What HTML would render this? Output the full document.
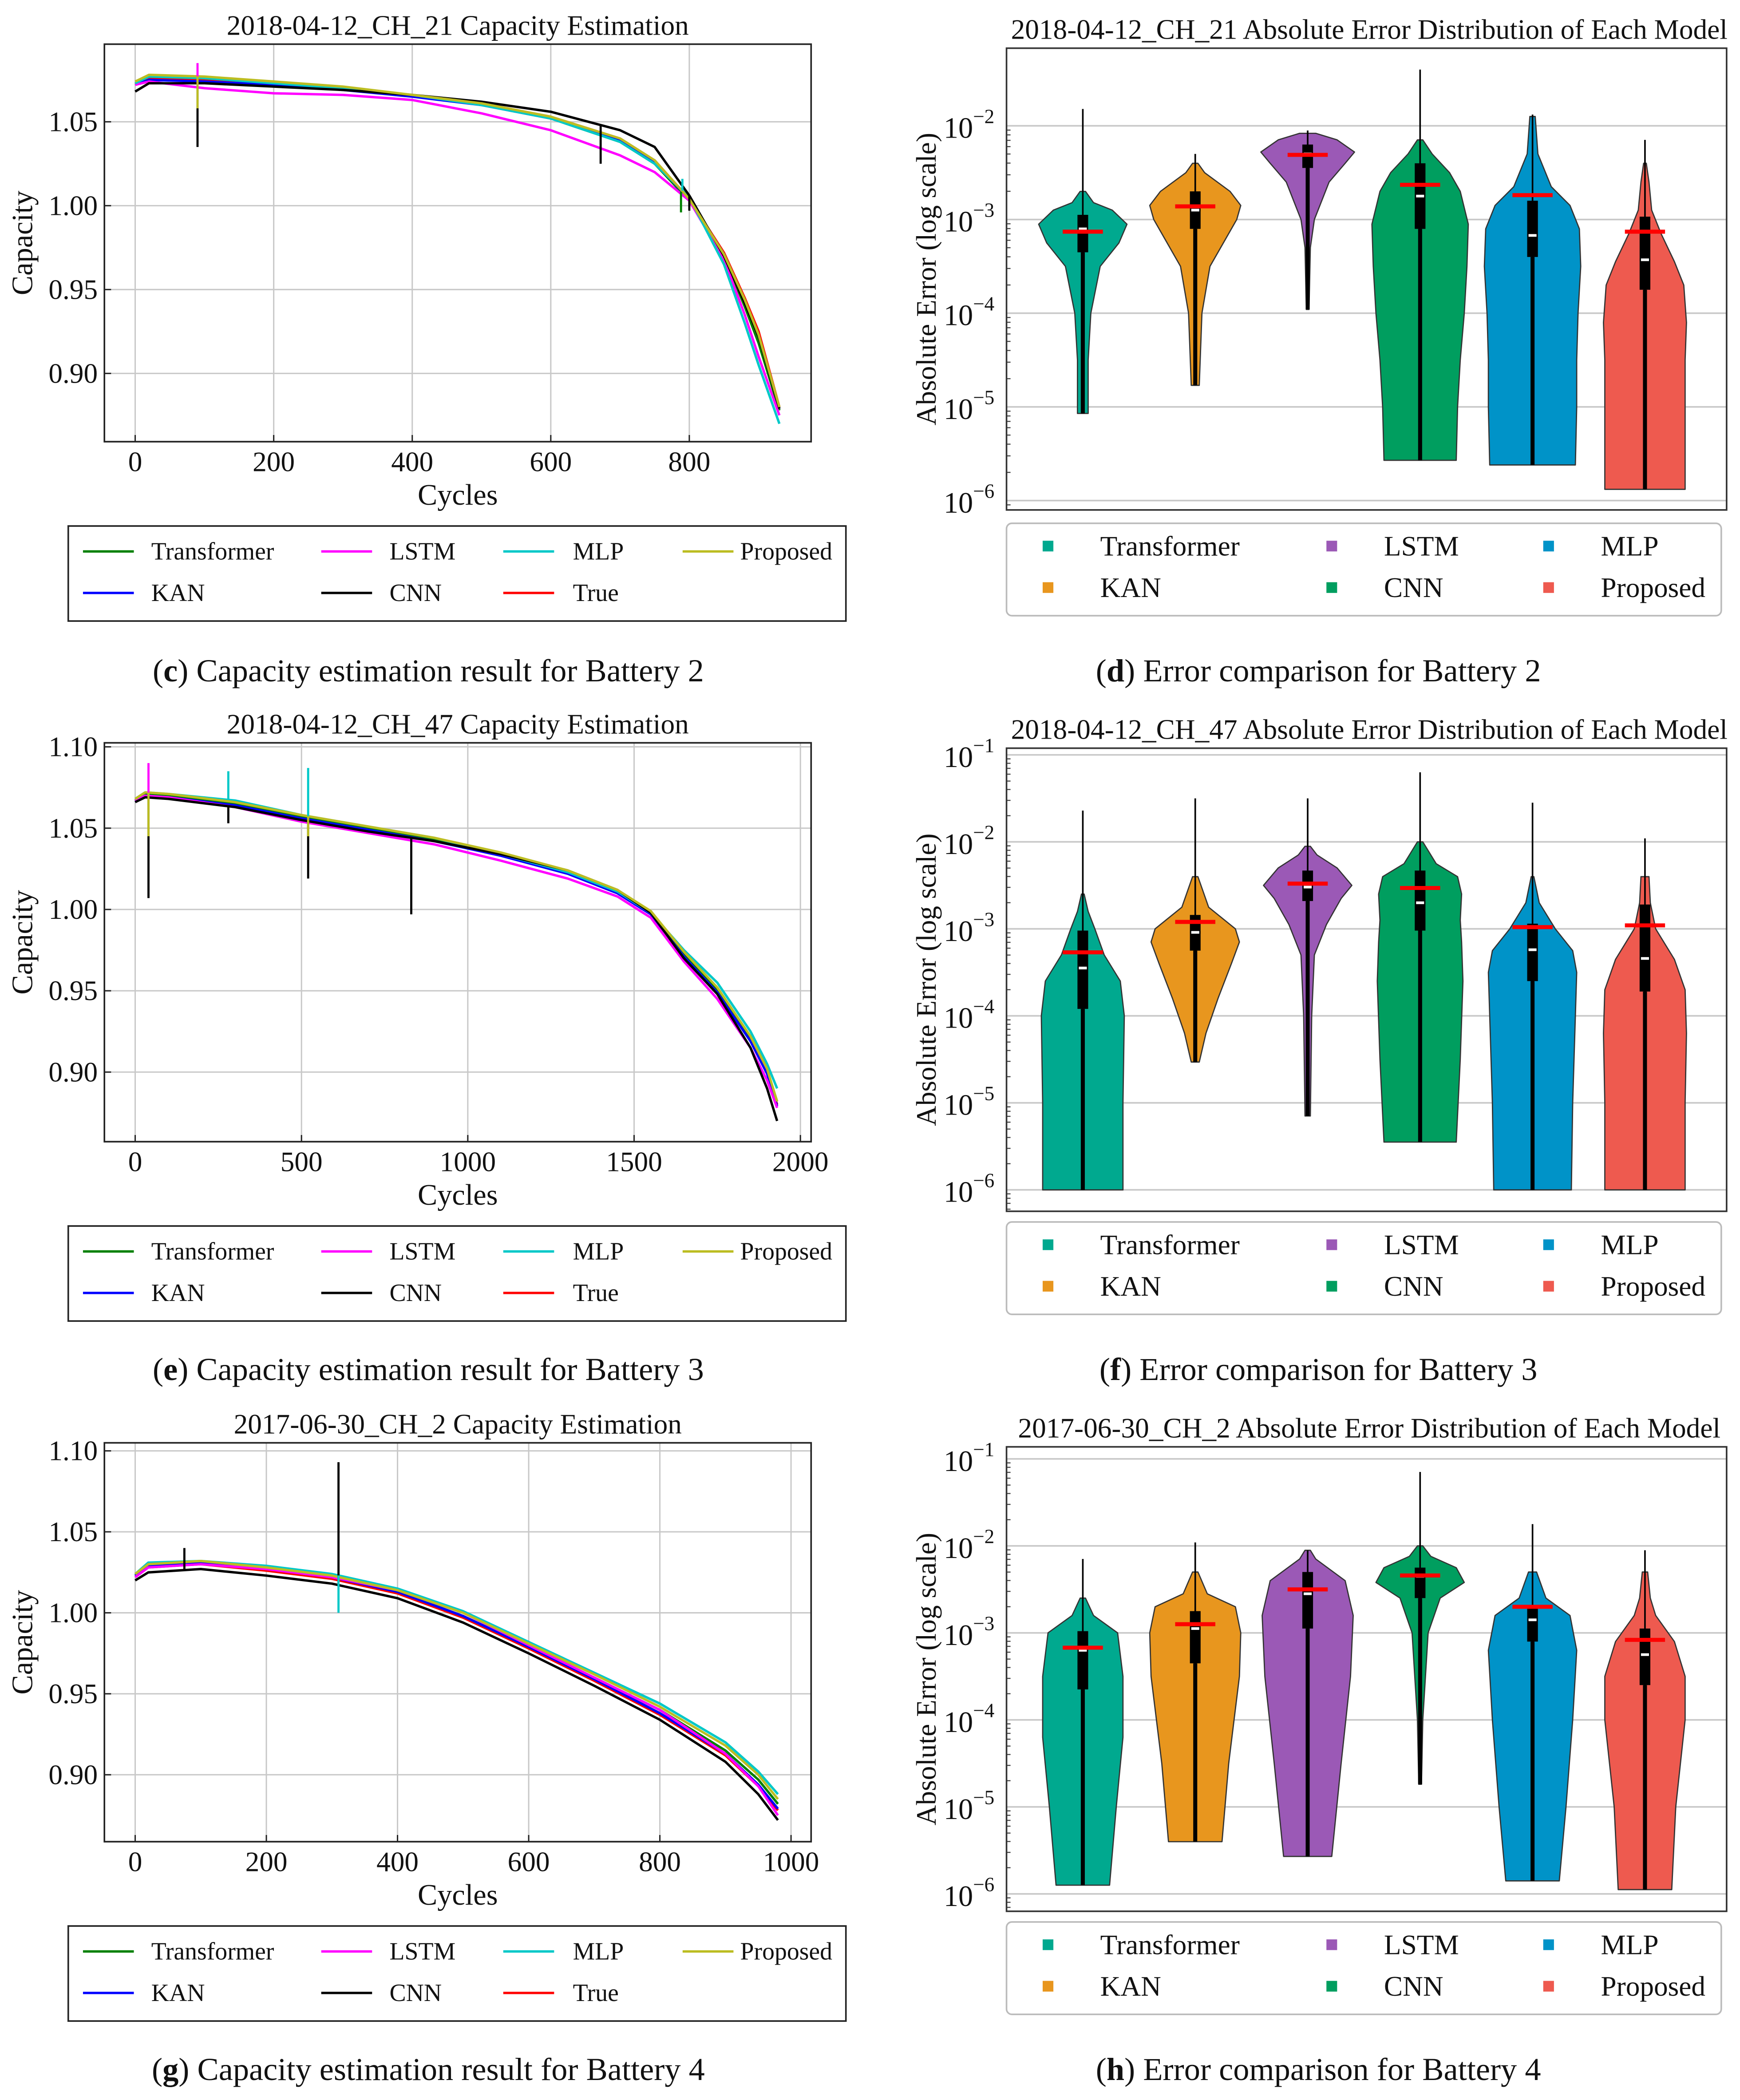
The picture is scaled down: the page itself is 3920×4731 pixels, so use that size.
<!DOCTYPE html>
<html><head><meta charset="utf-8">
<style>
html,body{margin:0;padding:0;background:#fff;}
svg{display:block;font-family:"Liberation Serif",serif;}
</style></head>
<body>
<svg id="fig" xmlns="http://www.w3.org/2000/svg" width="3920" height="4731" viewBox="0 0 1300 1569" preserveAspectRatio="none">
<rect x="0" y="0" width="1300" height="1569" fill="#fff"/>
</svg>
<script>
// ===== Capacity chart data =====
const capNames = ["True","Transformer","KAN","LSTM","MLP","CNN","Proposed"];
// Battery 2
const cCycles = [0,20,100,200,300,400,500,600,700,750,800,850,880,900,930];
const cTrue = [1.072,1.076,1.075,1.073,1.070,1.066,1.061,1.053,1.040,1.027,1.004,0.972,0.945,0.925,0.880];
const cTransformer = [1.073,1.077,1.076,1.073,1.070,1.066,1.060,1.052,1.038,1.025,1.003,0.970,0.940,0.918,0.878];
const cKAN = [1.072,1.075,1.074,1.072,1.069,1.065,1.060,1.052,1.039,1.026,1.004,0.971,0.943,0.922,0.879];
const cLSTM = [1.072,1.074,1.070,1.067,1.066,1.063,1.055,1.045,1.030,1.020,1.003,0.968,0.935,0.910,0.875];
const cMLP = [1.073,1.077,1.076,1.073,1.070,1.066,1.060,1.052,1.038,1.025,1.005,0.965,0.930,0.905,0.870];
const cCNN = [1.068,1.073,1.073,1.071,1.069,1.066,1.062,1.056,1.045,1.035,1.006,0.970,0.942,0.922,0.879];
const cProposed = [1.074,1.078,1.077,1.074,1.071,1.066,1.061,1.053,1.040,1.027,1.004,0.971,0.944,0.923,0.880];
const cSpikeSeries = ["CNN","LSTM","Proposed","MLP","Transformer","CNN","CNN"];
const cSpikeCycle = [90,90,90,790,788,672,800];
const cSpikeValue = [1.035,1.085,1.058,1.016,0.996,1.025,0.997];
const cXTicks = [0,200,400,600,800];
const cYTicks = [0.90,0.95,1.00,1.05];
// Battery 3
const eCycles = [0,30,100,300,500,700,900,1100,1300,1450,1550,1650,1750,1850,1900,1930];
const eTrue = [1.067,1.071,1.070,1.065,1.057,1.050,1.043,1.034,1.023,1.011,0.998,0.972,0.950,0.920,0.900,0.880];
const eTransformer = [1.067,1.071,1.070,1.065,1.057,1.050,1.043,1.034,1.023,1.011,0.998,0.972,0.951,0.921,0.901,0.882];
const eKAN = [1.066,1.070,1.069,1.064,1.056,1.049,1.042,1.033,1.022,1.010,0.997,0.971,0.949,0.919,0.899,0.879];
const eLSTM = [1.067,1.070,1.069,1.063,1.054,1.047,1.040,1.030,1.019,1.008,0.995,0.968,0.945,0.915,0.895,0.878];
const eMLP = [1.068,1.072,1.071,1.067,1.058,1.051,1.044,1.034,1.023,1.011,0.998,0.975,0.955,0.925,0.905,0.890];
const eCNN = [1.066,1.069,1.068,1.063,1.055,1.048,1.042,1.034,1.024,1.012,0.998,0.970,0.948,0.915,0.890,0.870];
const eProposed = [1.068,1.072,1.071,1.066,1.058,1.051,1.044,1.035,1.024,1.012,0.999,0.974,0.952,0.922,0.902,0.882];
const eSpikeSeries = ["CNN","CNN","CNN","CNN","LSTM","MLP","MLP","Proposed","Proposed"];
const eSpikeCycle = [40,520,830,280,40,280,520,40,520];
const eSpikeValue = [1.007,1.019,0.997,1.053,1.090,1.085,1.087,1.045,1.045];
const eXTicks = [0,500,1000,1500,2000];
const eYTicks = [0.90,0.95,1.00,1.05,1.10];
// Battery 4
const gCycles = [0,20,100,200,300,400,500,600,700,800,900,950,980];
const gTrue = [1.022,1.028,1.030,1.026,1.021,1.012,0.997,0.978,0.958,0.937,0.912,0.893,0.878];
const gTransformer = [1.023,1.029,1.031,1.027,1.022,1.013,0.998,0.979,0.960,0.940,0.915,0.897,0.882];
const gKAN = [1.023,1.029,1.031,1.027,1.022,1.013,0.998,0.979,0.959,0.938,0.913,0.894,0.879];
const gLSTM = [1.022,1.028,1.030,1.027,1.022,1.014,1.000,0.980,0.960,0.940,0.913,0.893,0.875];
const gMLP = [1.024,1.031,1.032,1.029,1.024,1.015,1.001,0.982,0.963,0.944,0.920,0.902,0.888];
const gCNN = [1.020,1.025,1.027,1.023,1.018,1.009,0.994,0.975,0.955,0.934,0.908,0.888,0.872];
const gProposed = [1.024,1.030,1.032,1.028,1.023,1.014,1.000,0.981,0.962,0.942,0.918,0.900,0.885];
const gSpikeSeries = ["CNN","MLP","CNN"];
const gSpikeCycle = [310,310,75];
const gSpikeValue = [1.093,1.000,1.040];
const gXTicks = [0,200,400,600,800,1000];
const gYTicks = [0.90,0.95,1.00,1.05,1.10];

// ===== Violin data (log10 of absolute error) =====
const models = ["Transformer","KAN","LSTM","CNN","MLP","Proposed"];
const dMin = [-5.07,-4.77,-3.96,-5.57,-5.62,-5.88];
const dMax = [-1.82,-2.30,-2.05,-1.40,-1.88,-2.15];
const dQ1 = [-3.35,-3.10,-2.45,-3.10,-3.40,-3.75];
const dQ3 = [-2.95,-2.70,-2.20,-2.40,-2.80,-2.97];
const dMed = [-3.10,-2.90,-2.30,-2.75,-3.17,-3.43];
const dMean = [-3.13,-2.86,-2.31,-2.63,-2.74,-3.13];
const dShape = [
 [[-5.07,4],[-4.5,4],[-4,6],[-3.5,13],[-3.25,27],[-3.05,33],[-2.9,22],[-2.82,8],[-2.7,2]],
 [[-4.77,3],[-4,5],[-3.5,11],[-3.2,23],[-3.0,31],[-2.85,34],[-2.7,26],[-2.5,7],[-2.4,2]],
 [[-3.96,1],[-3.3,2],[-3.0,5],[-2.6,16],[-2.4,28],[-2.28,35],[-2.15,22],[-2.08,6]],
 [[-5.57,27],[-5,28],[-4.5,30],[-4,33],[-3.5,35],[-3.05,36],[-2.7,30],[-2.5,22],[-2.3,9],[-2.15,2]],
 [[-5.62,32],[-5,33],[-4.5,33],[-4,34],[-3.5,36],[-3.1,35],[-2.85,28],[-2.65,14],[-2.3,4],[-1.9,2]],
 [[-5.88,30],[-5,30],[-4.5,30],[-4.1,31],[-3.7,29],[-3.45,22],[-3.15,12],[-2.9,5],[-2.6,3],[-2.4,1]]
];
const fMin = [-6.0,-4.53,-5.15,-5.45,-6.0,-6.0];
const fMax = [-1.64,-1.50,-1.50,-1.20,-1.55,-1.96];
const fQ1 = [-3.92,-3.25,-2.68,-3.02,-3.60,-3.72];
const fQ3 = [-3.02,-2.84,-2.33,-2.33,-2.94,-2.72];
const fMed = [-3.45,-3.04,-2.52,-2.70,-3.24,-3.34];
const fMean = [-3.27,-2.92,-2.48,-2.53,-2.98,-2.96];
const fShape = [
 [[-6,30],[-5,30],[-4,31],[-3.6,28],[-3.3,16],[-3.0,9],[-2.8,4],[-2.6,1]],
 [[-4.53,3],[-4.2,8],[-3.8,17],[-3.4,27],[-3.15,33],[-3.0,30],[-2.75,10],[-2.4,2]],
 [[-5.15,2],[-4,3],[-3.3,5],[-2.95,14],[-2.65,25],[-2.5,33],[-2.3,22],[-2.15,7],[-2.05,2]],
 [[-5.45,27],[-4.5,30],[-3.6,32],[-3.15,31],[-2.9,30],[-2.6,31],[-2.4,28],[-2.25,12],[-2.0,2]],
 [[-6,29],[-5,30],[-4,32],[-3.5,33],[-3.25,30],[-3.0,17],[-2.7,5],[-2.4,1]],
 [[-6,30],[-5,30],[-4.2,31],[-3.7,30],[-3.35,22],[-3.0,8],[-2.7,4],[-2.4,3]]
];
const hMin = [-5.90,-5.40,-5.57,-4.74,-5.85,-5.95];
const hMax = [-2.15,-1.96,-2.05,-1.15,-1.75,-2.05];
const hQ1 = [-3.65,-3.35,-2.95,-2.60,-3.10,-3.60];
const hQ3 = [-2.98,-2.75,-2.30,-2.25,-2.70,-2.95];
const hMed = [-3.20,-2.95,-2.55,-2.35,-2.85,-3.25];
const hMean = [-3.17,-2.90,-2.50,-2.34,-2.70,-3.08];
const hShape = [
 [[-5.9,20],[-5,25],[-4.2,30],[-3.5,30],[-3.0,26],[-2.8,8],[-2.6,2]],
 [[-5.4,20],[-4.5,25],[-3.5,33],[-3.0,34],[-2.7,30],[-2.55,9],[-2.3,2]],
 [[-5.57,18],[-4.5,25],[-3.5,32],[-2.8,34],[-2.4,28],[-2.15,6],[-2.05,2]],
 [[-4.74,1],[-4,2],[-3.5,4],[-3,6],[-2.6,15],[-2.42,33],[-2.25,27],[-2.12,8],[-2.0,2]],
 [[-5.85,20],[-5,25],[-4,30],[-3.2,33],[-2.8,28],[-2.6,10],[-2.3,3]],
 [[-5.95,20],[-5,23],[-4,30],[-3.5,30],[-3.1,22],[-2.8,8],[-2.6,4],[-2.3,2]]
];
const logTicksD = [-6,-5,-4,-3,-2];
const logTicksFH = [-6,-5,-4,-3,-2,-1];

// ===== rendering =====
const NS="http://www.w3.org/2000/svg";
const svg=document.getElementById('fig');
function mk(tag,attrs,parent){const e=document.createElementNS(NS,tag);for(const k in attrs)e.setAttribute(k,attrs[k]);(parent||svg).appendChild(e);return e;}
function txt(s,attrs,parent){const e=mk('text',attrs,parent);e.textContent=s;return e;}

const capColors={True:"#ff0000",Transformer:"#008000",KAN:"#0000ff",LSTM:"#ff00ff",MLP:"#00c8c8",CNN:"#000000",Proposed:"#bcbd22"};
const drawOrder=["True","Transformer","KAN","LSTM","MLP","CNN","Proposed"];

function capChart(cfg){
  const g=mk('g',{});
  
  
  const {L,R,T,B}=cfg.box;
  const xs=v=>cfg.x0+v*cfg.kx;
  const ys=v=>cfg.yRef+(cfg.vRef-v)*cfg.ky;
  const t=txt(cfg.title,{x:(L+R)/2,y:T-7,'text-anchor':'middle','font-size':21,fill:'#111'},g);
  
  cfg.xt.forEach(v=>{
    mk('line',{x1:xs(v),x2:xs(v),y1:T,y2:B,stroke:'#c8c8c8','stroke-width':1},g);
    mk('line',{x1:xs(v),x2:xs(v),y1:B,y2:B-5,stroke:'#222','stroke-width':1},g);
    const l=txt(String(v),{x:xs(v),y:B+22,'text-anchor':'middle','font-size':21,fill:'#111'},g);
    
  });
  cfg.yt.forEach(v=>{
    mk('line',{x1:L,x2:R,y1:ys(v),y2:ys(v),stroke:'#c8c8c8','stroke-width':1},g);
    mk('line',{x1:L,x2:L+5,y1:ys(v),y2:ys(v),stroke:'#222','stroke-width':1},g);
    const l=txt(v.toFixed(2),{x:L-5,y:ys(v)+7,'text-anchor':'end','font-size':21,fill:'#111'},g);
    
  });
  drawOrder.forEach(n=>{
    const arr=cfg.series[n];
    const pts=arr.map((v,i)=>xs(cfg.cycles[i]).toFixed(1)+','+ys(v).toFixed(1)).join(' ');
    const p=mk('polyline',{points:pts,fill:'none',stroke:capColors[n],'stroke-width':1.8,'stroke-linejoin':'round'},g);
    
    
  });
  cfg.spS.forEach((n,i)=>{
    const c=cfg.spC[i];
    const arr=cfg.series[n];let base=arr[0];
    for(let k=0;k<cfg.cycles.length-1;k++){if(c>=cfg.cycles[k]&&c<=cfg.cycles[k+1]){const f=(c-cfg.cycles[k])/(cfg.cycles[k+1]-cfg.cycles[k]);base=arr[k]+f*(arr[k+1]-arr[k]);}}
    const s=mk('line',{x1:xs(c),x2:xs(c),y1:ys(base),y2:ys(cfg.spV[i]),stroke:capColors[n],'stroke-width':1.6},g);
    
    
  });
  mk('rect',{x:L,y:T,width:R-L,height:B-T,fill:'none',stroke:'#222','stroke-width':1.2},g);
  const xl=txt('Cycles',{x:(L+R)/2,y:B+47,'text-anchor':'middle','font-size':22,fill:'#111'},g);
  
  const yl=txt('Capacity',{x:0,y:0,transform:`translate(24,${(T+B)/2}) rotate(-90)`,'text-anchor':'middle','font-size':22,fill:'#111'},g);
  
  const lg=mk('g',{},g);
  
  const lt=cfg.legT;
  mk('rect',{x:51,y:lt,width:581,height:71,fill:'#fff',stroke:'#222','stroke-width':1.2},lg);
  const ent=[["Transformer",62,113,0],["LSTM",240,291,0],["MLP",376,428,0],["Proposed",510,553,0],["KAN",62,113,1],["CNN",240,291,1],["True",376,428,1]];
  ent.forEach(e=>{
    const y=lt+19+e[3]*31;
    const eg=mk('g',{},lg);
    
    
    mk('line',{x1:e[1],x2:e[1]+38,y1:y,y2:y,stroke:capColors[e[0]],'stroke-width':1.8},eg);
    txt(e[0],{x:e[2],y:y+6,'font-size':18.5,fill:'#111'},eg);
  });
  const cap=txt('',{x:320,y:cfg.capY,'text-anchor':'middle','font-size':24,fill:'#111'},g);
  
  cap.innerHTML=`(<tspan font-weight="bold">${cfg.letter}</tspan>) ${cfg.caption}`;
}

capChart({name:'capacity-chart-battery-2',title:'2018-04-12_CH_21 Capacity Estimation',box:{L:78,R:606,T:33,B:330},
 x0:101,kx:(515-101)/800,yRef:91,vRef:1.05,ky:(279-91)/0.15,cycles:cCycles,
 series:{True:cTrue,Transformer:cTransformer,KAN:cKAN,LSTM:cLSTM,MLP:cMLP,CNN:cCNN,Proposed:cProposed},
 spS:cSpikeSeries,spC:cSpikeCycle,spV:cSpikeValue,xt:cXTicks,yt:cYTicks,legT:393,capY:509,letter:'c',caption:'Capacity estimation result for Battery 2'});
capChart({name:'capacity-chart-battery-3',title:'2018-04-12_CH_47 Capacity Estimation',box:{L:78,R:606,T:555,B:853},
 x0:101,kx:(598-101)/2000,yRef:558,vRef:1.10,ky:(801-558)/0.20,cycles:eCycles,
 series:{True:eTrue,Transformer:eTransformer,KAN:eKAN,LSTM:eLSTM,MLP:eMLP,CNN:eCNN,Proposed:eProposed},
 spS:eSpikeSeries,spC:eSpikeCycle,spV:eSpikeValue,xt:eXTicks,yt:eYTicks,legT:916,capY:1031,letter:'e',caption:'Capacity estimation result for Battery 3'});
capChart({name:'capacity-chart-battery-4',title:'2017-06-30_CH_2 Capacity Estimation',box:{L:78,R:606,T:1078,B:1376},
 x0:101,kx:(591-101)/1000,yRef:1084,vRef:1.10,ky:(1326-1084)/0.20,cycles:gCycles,
 series:{True:gTrue,Transformer:gTransformer,KAN:gKAN,LSTM:gLSTM,MLP:gMLP,CNN:gCNN,Proposed:gProposed},
 spS:gSpikeSeries,spC:gSpikeCycle,spV:gSpikeValue,xt:gXTicks,yt:gYTicks,legT:1439,capY:1554,letter:'g',caption:'Capacity estimation result for Battery 4'});

const vColors=["#00a98f","#e8961e","#9b59b6","#009e5f","#0093c8","#ee5a4f"];
const centers=[809,893,977,1061,1145,1229];
function violinChart(cfg){
  const g=mk('g',{});
  
  
  const {L,R,T,B}=cfg.box;
  const ys=v=>cfg.y3-(v+3)*cfg.dec;
  const t=txt(cfg.title,{x:(L+R)/2+2,y:cfg.titleY,'text-anchor':'middle','font-size':21,fill:'#111'},g);
  
  cfg.ticks.forEach(v=>{
    mk('line',{x1:L,x2:R,y1:ys(v),y2:ys(v),stroke:'#c8c8c8','stroke-width':1.2},g);
    for(let k=2;k<10;k++){const yy=ys(v+Math.log10(k)-1);if(yy>T&&yy<B)mk('line',{x1:L,x2:L+3,y1:yy,y2:yy,stroke:'#444','stroke-width':0.8},g);}
    const l=txt('',{x:L-47,y:ys(v)+9,'font-size':22,fill:'#111'},g);
    
    l.innerHTML=`10<tspan dy="-11" font-size="15">\u2212${-v}</tspan>`;
  });
  models.forEach((m,i)=>{
    const c=centers[i];
    const vg=mk('g',{},g);
    
    
    const sh=cfg.shape[i];
    const right=sh.map(p=>`${(c+p[1]).toFixed(1)},${ys(p[0]).toFixed(1)}`);
    const left=sh.slice().reverse().map(p=>`${(c-p[1]).toFixed(1)},${ys(p[0]).toFixed(1)}`);
    mk('polygon',{points:right.concat(left).join(' '),fill:vColors[i],stroke:'#333','stroke-width':0.9,'stroke-linejoin':'round'},vg);
    mk('line',{x1:c,x2:c,y1:ys(cfg.min[i]),y2:ys(cfg.max[i]),stroke:'#000','stroke-width':1.2},vg);
    mk('line',{x1:c,x2:c,y1:ys(cfg.min[i]),y2:ys(cfg.q1[i]),stroke:'#000','stroke-width':3},vg);
    mk('line',{x1:c,x2:c,y1:ys(cfg.q1[i]),y2:ys(cfg.q3[i]),stroke:'#000','stroke-width':8},vg);
    mk('line',{x1:c-3,x2:c+3,y1:ys(cfg.med[i]),y2:ys(cfg.med[i]),stroke:'#fff','stroke-width':2},vg);
    const mn=mk('line',{x1:c-15,x2:c+15,y1:ys(cfg.mean[i]),y2:ys(cfg.mean[i]),stroke:'#ff0000','stroke-width':3},vg);
    
    
  });
  mk('rect',{x:L,y:T,width:R-L,height:B-T,fill:'none',stroke:'#333','stroke-width':1.2},g);
  const yl=txt('Absolute Error (log scale)',{x:0,y:0,transform:`translate(699,${(T+B)/2}) rotate(-90)`,'text-anchor':'middle','font-size':21,fill:'#111'},g);
  
  const lg=mk('g',{},g);
  
  const lt=cfg.legT;
  mk('rect',{x:752,y:lt,width:534,height:69,rx:4,fill:'#fff',stroke:'#bbb','stroke-width':1.2},lg);
  const pos=[[783,822,0],[783,822,1],[995,1034,0],[995,1034,1],[1157,1196,0],[1157,1196,1]];
  models.forEach((m,i)=>{
    const p=pos[i];const y=lt+17+p[2]*31;
    const eg=mk('g',{},lg);
    
    
    mk('rect',{x:p[0]-4,y:y-4,width:8,height:8,fill:vColors[i]},eg);
    txt(m,{x:p[1],y:y+7,'font-size':21,fill:'#111'},eg);
  });
  const cap=txt('',{x:985,y:cfg.capY,'text-anchor':'middle','font-size':24,fill:'#111'},g);
  
  cap.innerHTML=`(<tspan font-weight="bold">${cfg.letter}</tspan>) ${cfg.caption}`;
}
violinChart({name:'error-violin-battery-2',title:'2018-04-12_CH_21 Absolute Error Distribution of Each Model',titleY:29,
 box:{L:752,R:1290,T:36,B:381},y3:164,dec:70,ticks:logTicksD,shape:dShape,min:dMin,max:dMax,q1:dQ1,q3:dQ3,med:dMed,mean:dMean,
 legT:391,capY:509,letter:'d',caption:'Error comparison for Battery 2'});
violinChart({name:'error-violin-battery-3',title:'2018-04-12_CH_47 Absolute Error Distribution of Each Model',titleY:552,
 box:{L:752,R:1290,T:559,B:905},y3:694,dec:65,ticks:logTicksFH,shape:fShape,min:fMin,max:fMax,q1:fQ1,q3:fQ3,med:fMed,mean:fMean,
 legT:913,capY:1031,letter:'f',caption:'Error comparison for Battery 3'});
violinChart({name:'error-violin-battery-4',title:'2017-06-30_CH_2 Absolute Error Distribution of Each Model',titleY:1074,
 box:{L:752,R:1290,T:1081,B:1428},y3:1220,dec:65,ticks:logTicksFH,shape:hShape,min:hMin,max:hMax,q1:hQ1,q3:hQ3,med:hMed,mean:hMean,
 legT:1436,capY:1554,letter:'h',caption:'Error comparison for Battery 4'});
</script>
</body></html>
